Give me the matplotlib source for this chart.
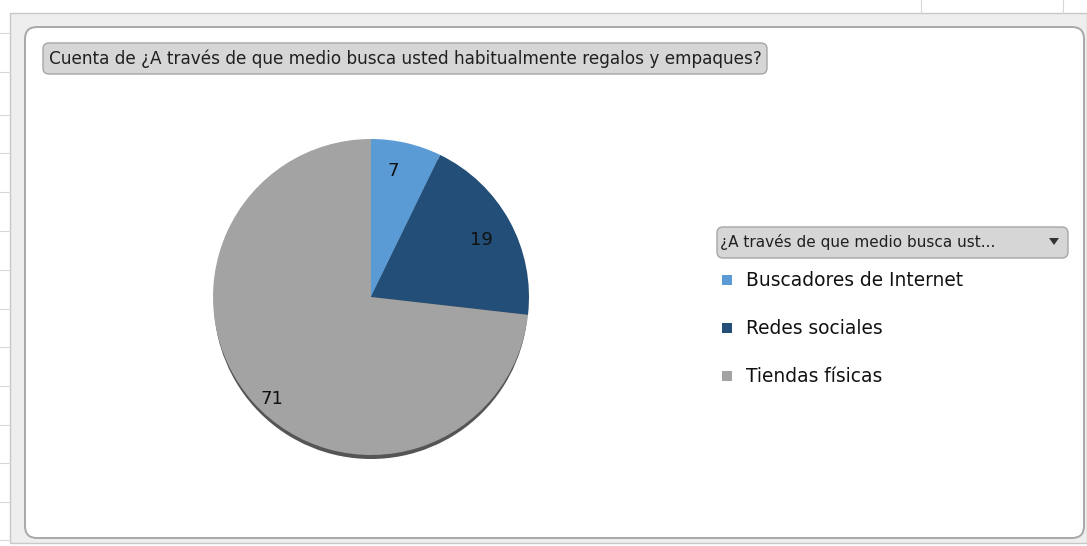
import matplotlib.pyplot as plt
from matplotlib.patches import FancyBboxPatch, Rectangle, Circle, Polygon

# Survey counts
categorias = ['Buscadores de Internet', 'Redes sociales', 'Tiendas físicas']
cuentas = [7, 19, 71]
colores = ['#5B9BD5', '#224E78', '#A3A3A3']

titulo = 'Cuenta de ¿A través de que medio busca usted habitualmente regalos y empaques?'
campo = '¿A través de que medio busca ust...'

W, H = 1087, 546
fig = plt.figure(figsize=(W / 100, H / 100), dpi=100)
ax = fig.add_axes([0, 0, 1, 1])


def Y(p):
    # pixel row (from top) -> data y
    return H - p


# sheet grid peeking out around the chart
for yy in [33, 72, 115, 153, 192, 231, 270, 309, 347, 386, 425, 463, 502, 540]:
    ax.plot([0, 10], [Y(yy), Y(yy)], color='#D8D8D8', lw=0.8)
for xx in [921, 1063]:
    ax.plot([xx, xx], [Y(0), Y(13)], color='#D8D8D8', lw=0.8)

# chart frame
ax.add_patch(Rectangle((10, Y(543)), 1077, 530, facecolor='#EEEEEE', edgecolor='#C8C8C8', lw=1))
ax.add_patch(FancyBboxPatch((25, Y(538)), 1059, 511, boxstyle='round,pad=0,rounding_size=12',
                            facecolor='white', edgecolor='#A8A8A8', lw=1.4))

# title button
ax.add_patch(FancyBboxPatch((43, Y(74)), 724, 31, boxstyle='round,pad=0,rounding_size=6',
                            facecolor='#D6D6D6', edgecolor='#A6A6A6', lw=1))
ax.text(49, Y(59), titulo, fontsize=12.2, color='#202020', va='center', ha='left')

# pie with a shadow along the lower rim
cx, cy, r = 371, Y(297), 158
ax.add_patch(Circle((cx, cy - 5), r - 1, facecolor='#555555', edgecolor='none', zorder=2))
wedges, _ = ax.pie(cuentas, colors=colores, startangle=90, counterclock=False,
                   center=(cx, cy), radius=r, frame=True,
                   wedgeprops=dict(linewidth=0))
for w in wedges:
    w.set_zorder(3)
ax.set_xlim(0, W)
ax.set_ylim(0, H)
ax.set_aspect('equal')
ax.axis('off')

# data labels
pos_etiquetas = [(393, 171), (481, 240), (272, 399)]
for (px, py), v in zip(pos_etiquetas, cuentas):
    ax.text(px, Y(py), str(v), fontsize=13, color='#111111', ha='center', va='center', zorder=5)

# legend field button
ax.add_patch(FancyBboxPatch((717, Y(258)), 351, 31, boxstyle='round,pad=0,rounding_size=6',
                            facecolor='#D6D6D6', edgecolor='#A6A6A6', lw=1))
ax.text(720, Y(242), campo, fontsize=11.0, color='#202020', va='center', ha='left')
ax.add_patch(Polygon([[1049, Y(238)], [1059, Y(238)], [1054, Y(245)]], closed=True,
                     facecolor='#333333', edgecolor='none'))

# legend entries
for i, (cat, col) in enumerate(zip(categorias, colores)):
    yy = 280 + i * 48
    ax.add_patch(Rectangle((722, Y(yy + 5)), 10, 10, facecolor=col, edgecolor='none'))
    ax.text(746, Y(yy), cat, fontsize=13.4, color='#111111', va='center', ha='left')

fig.savefig('out.png', dpi=100)
